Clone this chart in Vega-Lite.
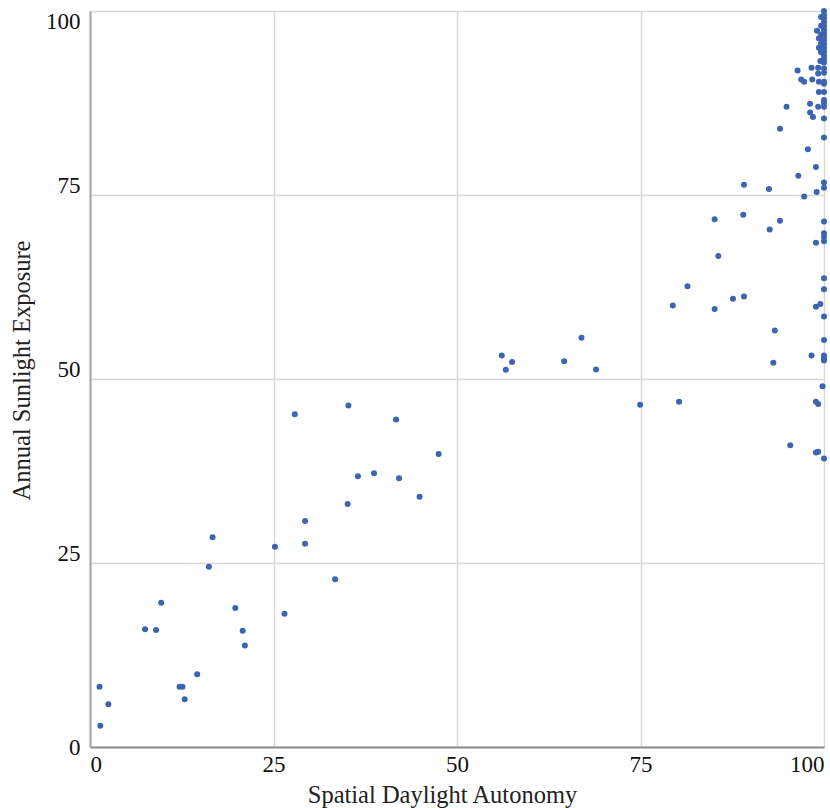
{
  "$schema": "https://vega.github.io/schema/vega-lite/v6.json",
  "width": 734,
  "height": 736,
  "autosize": {"type": "none"},
  "padding": {"left": 90, "top": 11, "right": 6, "bottom": 61},
  "background": "white",
  "config": {"view": {"stroke": null}},
  "data": {"values": [
    {"sda": 1.3, "ase": 8.2}, {"sda": 2.5, "ase": 5.8}, {"sda": 1.4, "ase": 2.9}, {"sda": 7.5, "ase": 16.0},
    {"sda": 9.0, "ase": 15.9}, {"sda": 9.7, "ase": 19.6}, {"sda": 12.2, "ase": 8.2}, {"sda": 12.6, "ase": 8.2},
    {"sda": 12.9, "ase": 6.5}, {"sda": 14.6, "ase": 9.9}, {"sda": 16.2, "ase": 24.5}, {"sda": 16.7, "ase": 28.5},
    {"sda": 19.8, "ase": 18.9}, {"sda": 20.8, "ase": 15.8}, {"sda": 21.1, "ase": 13.8}, {"sda": 25.2, "ase": 27.2},
    {"sda": 26.5, "ase": 18.1}, {"sda": 27.9, "ase": 45.2}, {"sda": 29.3, "ase": 30.7}, {"sda": 29.3, "ase": 27.6},
    {"sda": 33.4, "ase": 22.8}, {"sda": 35.1, "ase": 33.0}, {"sda": 35.2, "ase": 46.4}, {"sda": 36.5, "ase": 36.8},
    {"sda": 38.7, "ase": 37.2}, {"sda": 41.7, "ase": 44.5}, {"sda": 42.1, "ase": 36.5}, {"sda": 44.9, "ase": 34.0},
    {"sda": 47.5, "ase": 39.8},
    {"sda": 56.1, "ase": 53.2}, {"sda": 56.65, "ase": 51.25}, {"sda": 57.5, "ase": 52.3}, {"sda": 64.6, "ase": 52.4},
    {"sda": 66.96, "ase": 55.6}, {"sda": 68.95, "ase": 51.3}, {"sda": 74.95, "ase": 46.5}, {"sda": 80.25, "ase": 46.9},
    {"sda": 79.4, "ase": 60.0}, {"sda": 81.4, "ase": 62.6}, {"sda": 85.1, "ase": 59.5}, {"sda": 85.6, "ase": 66.7},
    {"sda": 85.1, "ase": 71.7}, {"sda": 87.6, "ase": 60.9}, {"sda": 89.1, "ase": 61.2}, {"sda": 89.0, "ase": 72.3},
    {"sda": 89.1, "ase": 76.4}, {"sda": 92.5, "ase": 75.8}, {"sda": 92.6, "ase": 70.3}, {"sda": 93.3, "ase": 56.6},
    {"sda": 93.1, "ase": 52.2}, {"sda": 94.0, "ase": 71.5}, {"sda": 94.0, "ase": 84.0}, {"sda": 94.9, "ase": 87.0},
    {"sda": 95.4, "ase": 41.0}, {"sda": 96.5, "ase": 77.6}, {"sda": 97.3, "ase": 74.8}, {"sda": 97.8, "ase": 81.2},
    {"sda": 96.4, "ase": 91.9}, {"sda": 96.9, "ase": 90.7}, {"sda": 97.3, "ase": 90.4}, {"sda": 98.3, "ase": 92.3},
    {"sda": 98.4, "ase": 90.7}, {"sda": 98.1, "ase": 87.4}, {"sda": 98.1, "ase": 86.2}, {"sda": 98.5, "ase": 85.6},
    {"sda": 98.9, "ase": 78.8}, {"sda": 99.0, "ase": 75.4}, {"sda": 98.9, "ase": 68.5}, {"sda": 98.3, "ase": 53.2},
    {"sda": 98.9, "ase": 59.8}, {"sda": 99.5, "ase": 60.2}, {"sda": 99.8, "ase": 49.0}, {"sda": 98.9, "ase": 46.9},
    {"sda": 99.2, "ase": 46.6}, {"sda": 98.9, "ase": 40.0}, {"sda": 99.2, "ase": 40.1},
    {"sda": 99.05, "ase": 97.3}, {"sda": 99.3, "ase": 96.3}, {"sda": 99.3, "ase": 95.0}, {"sda": 99.5, "ase": 93.2},
    {"sda": 99.2, "ase": 92.3}, {"sda": 99.2, "ase": 91.5}, {"sda": 99.3, "ase": 90.4}, {"sda": 99.3, "ase": 89.0},
    {"sda": 99.2, "ase": 87.0}, {"sda": 99.6, "ase": 99.2}, {"sda": 99.6, "ase": 98.0}, {"sda": 99.6, "ase": 96.8},
    {"sda": 99.6, "ase": 95.6}, {"sda": 99.6, "ase": 94.4},
    {"sda": 100, "ase": 100}, {"sda": 100, "ase": 99.5}, {"sda": 100, "ase": 99}, {"sda": 100, "ase": 98.5},
    {"sda": 100, "ase": 98}, {"sda": 100, "ase": 97.5}, {"sda": 100, "ase": 97}, {"sda": 100, "ase": 96.5},
    {"sda": 100, "ase": 96}, {"sda": 100, "ase": 95.5}, {"sda": 100, "ase": 95}, {"sda": 100, "ase": 94.5},
    {"sda": 100, "ase": 94}, {"sda": 100, "ase": 93.5}, {"sda": 100, "ase": 93}, {"sda": 100, "ase": 92.2},
    {"sda": 100, "ase": 91.6}, {"sda": 100, "ase": 90.4}, {"sda": 100, "ase": 90.1}, {"sda": 100, "ase": 89.0},
    {"sda": 100, "ase": 87.9}, {"sda": 100, "ase": 87.5}, {"sda": 100, "ase": 87.0}, {"sda": 100, "ase": 85.4},
    {"sda": 100, "ase": 82.8}, {"sda": 100, "ase": 76.7}, {"sda": 100, "ase": 76.0}, {"sda": 100, "ase": 71.4},
    {"sda": 100, "ase": 69.8}, {"sda": 100, "ase": 69.3}, {"sda": 100, "ase": 68.7}, {"sda": 100, "ase": 63.7},
    {"sda": 100, "ase": 62.2}, {"sda": 100, "ase": 58.5}, {"sda": 100, "ase": 55.3}, {"sda": 100, "ase": 53.2},
    {"sda": 100, "ase": 52.8}, {"sda": 100, "ase": 52.5}, {"sda": 100, "ase": 39.2}
  ]},
  "mark": {"type": "circle", "size": 36, "color": "#3c64b4", "opacity": 1},
  "encoding": {
    "x": {
      "field": "sda", "type": "quantitative",
      "scale": {"domain": [0, 100], "nice": false, "zero": false},
      "axis": {
        "title": "Spatial Daylight Autonomy",
        "values": [0, 25, 50, 75, 100],
        "grid": true, "gridColor": "#d9d9d9", "gridWidth": 1.5,
        "domainColor": "#8c8c8c", "domainWidth": 2,
        "ticks": false, "labelPadding": 6,
        "labelFont": "Liberation Serif", "labelFontSize": 23, "labelColor": "#111",
        "labelFlush": true,
        "titleFont": "Liberation Serif", "titleFontSize": 24.5, "titleFontWeight": "normal",
        "titleColor": "#222",
        "titleX": 352, "titleY": 55, "titleAlign": "center", "titleBaseline": "alphabetic"
      }
    },
    "y": {
      "field": "ase", "type": "quantitative",
      "scale": {"domain": [0, 100], "nice": false, "zero": false},
      "axis": {
        "title": "Annual Sunlight Exposure",
        "values": [0, 25, 50, 75, 100],
        "grid": true, "gridColor": "#d9d9d9", "gridWidth": 1.5,
        "domainColor": "#a6a6a6", "domainWidth": 2,
        "ticks": false, "labelPadding": 10,
        "labelFont": "Liberation Serif", "labelFontSize": 23, "labelColor": "#111",
        "labelOffset": {"condition": [{"test": "datum.value >= 100", "value": 10}, {"test": "datum.value <= 0", "value": 0}], "value": -10},
        "titleFont": "Liberation Serif", "titleFontSize": 24.5, "titleFontWeight": "normal",
        "titleColor": "#222",
        "titleX": -61, "titleY": 359, "titleAlign": "center", "titleBaseline": "alphabetic", "titleAngle": -90
      }
    }
  }
}
